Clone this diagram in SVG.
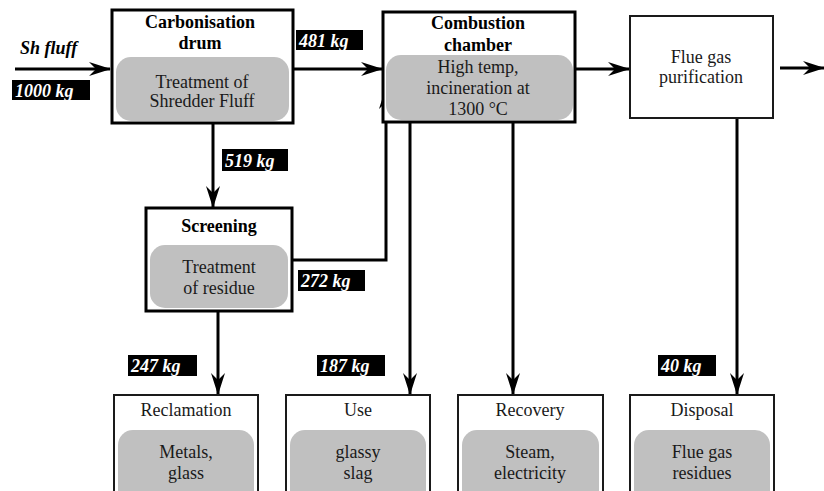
<svg xmlns="http://www.w3.org/2000/svg" width="824" height="491" viewBox="0 0 824 491">
<defs>
<marker id="ah" viewBox="0 0 22 14" refX="21" refY="7" markerWidth="22" markerHeight="14" markerUnits="userSpaceOnUse" orient="auto">
<path d="M0,0 L22,7 L0,14 L7,7 Z" fill="#000"/>
</marker>
<style>
.thick{fill:#fff;stroke:#000;stroke-width:3}
.thin{fill:#fff;stroke:#1a1a1a;stroke-width:2}
.gray{fill:#c0c0c0;stroke:none}
.t{font-family:'Liberation Serif',Tinos,'DejaVu Serif',serif;font-size:18px;fill:#1a1a1a;text-anchor:middle}
.b{font-weight:bold;fill:#000}
.lblbox{fill:#000}
.lbl{font-family:'Liberation Serif',Tinos,'DejaVu Serif',serif;font-size:18px;font-weight:bold;font-style:italic;fill:#fff}
.sh{font-family:'Liberation Serif',Tinos,'DejaVu Serif',serif;font-size:18px;font-weight:bold;font-style:italic;fill:#000}
.conn{fill:none;stroke:#000;stroke-width:3;marker-end:url(#ah)}
</style>
</defs>
<rect width="824" height="491" fill="#fff"/>

<g id="connectors">
<line class="conn" x1="15" y1="69" x2="110" y2="69"/>
<line class="conn" x1="293" y1="69" x2="382" y2="69"/>
<line class="conn" x1="213" y1="123" x2="213" y2="207"/>
<path class="conn" d="M292,260 H386 V88"/>
<line class="conn" x1="575" y1="69" x2="629" y2="69"/>
<line class="conn" x1="780" y1="68" x2="824" y2="68"/>
<line class="conn" x1="218" y1="311" x2="218" y2="394"/>
<line class="conn" x1="410" y1="122" x2="410" y2="394"/>
<line class="conn" x1="513" y1="122" x2="513" y2="394"/>
<line class="conn" x1="737" y1="118" x2="737" y2="394"/>
</g>

<g id="labels">
<text class="sh" x="20" y="54">Sh fluff</text>
<rect class="lblbox" x="12" y="80" width="78" height="20"/>
<text class="lbl" x="15" y="97">1000 kg</text>
<rect class="lblbox" x="296" y="30" width="67" height="20"/>
<text class="lbl" x="299" y="47">481 kg</text>
<rect class="lblbox" x="222" y="149" width="66" height="22"/>
<text class="lbl" x="225" y="167">519 kg</text>
<rect class="lblbox" x="298" y="270" width="67" height="21"/>
<text class="lbl" x="301" y="287">272 kg</text>
<rect class="lblbox" x="128" y="355" width="69" height="21"/>
<text class="lbl" x="131" y="372">247 kg</text>
<rect class="lblbox" x="317" y="355" width="68" height="21"/>
<text class="lbl" x="320" y="372">187 kg</text>
<rect class="lblbox" x="658" y="355" width="58" height="21"/>
<text class="lbl" x="661" y="372">40 kg</text>
</g>

<g id="carbonisation">
<rect class="thick" x="112" y="10" width="181" height="113"/>
<rect class="gray" x="116" y="57" width="173" height="64" rx="15"/>
<text class="t b" x="200" y="28">Carbonisation</text>
<text class="t b" x="200" y="49">drum</text>
<text class="t" x="202" y="88">Treatment of</text>
<text class="t" x="202" y="107">Shredder Fluff</text>
</g>

<g id="combustion">
<rect class="thick" x="383" y="12" width="192" height="110"/>
<rect class="gray" x="386" y="55" width="187" height="65" rx="15"/>
<text class="t b" x="478" y="29">Combustion</text>
<text class="t b" x="478" y="51">chamber</text>
<text class="t" x="478" y="73">High temp,</text>
<text class="t" x="478" y="94">incineration at</text>
<text class="t" x="478" y="115">1300 °C</text>
</g>

<g id="fluegas">
<rect class="thin" x="630" y="16" width="143" height="102"/>
<text class="t" x="701" y="63">Flue gas</text>
<text class="t" x="701" y="83">purification</text>
</g>

<g id="screening">
<rect class="thick" x="146" y="208" width="146" height="103"/>
<rect class="gray" x="150" y="245" width="138" height="63" rx="15"/>
<text class="t b" x="219" y="232">Screening</text>
<text class="t" x="219" y="273">Treatment</text>
<text class="t" x="219" y="294">of residue</text>
</g>

<g id="reclamation">
<rect class="thin" x="114" y="395" width="144" height="110"/>
<rect class="gray" x="118" y="430" width="136" height="80" rx="15"/>
<text class="t" x="186" y="416">Reclamation</text>
<text class="t" x="186" y="458">Metals,</text>
<text class="t" x="186" y="479">glass</text>
</g>

<g id="use">
<rect class="thin" x="286" y="395" width="144" height="110"/>
<rect class="gray" x="290" y="430" width="136" height="80" rx="15"/>
<text class="t" x="358" y="416">Use</text>
<text class="t" x="358" y="458">glassy</text>
<text class="t" x="358" y="479">slag</text>
</g>

<g id="recovery">
<rect class="thin" x="458" y="395" width="145" height="110"/>
<rect class="gray" x="462" y="430" width="137" height="80" rx="15"/>
<text class="t" x="530" y="416">Recovery</text>
<text class="t" x="530" y="458">Steam,</text>
<text class="t" x="530" y="479">electricity</text>
</g>

<g id="disposal">
<rect class="thin" x="630" y="395" width="144" height="110"/>
<rect class="gray" x="634" y="430" width="136" height="80" rx="15"/>
<text class="t" x="702" y="416">Disposal</text>
<text class="t" x="702" y="458">Flue gas</text>
<text class="t" x="702" y="479">residues</text>
</g>
</svg>
